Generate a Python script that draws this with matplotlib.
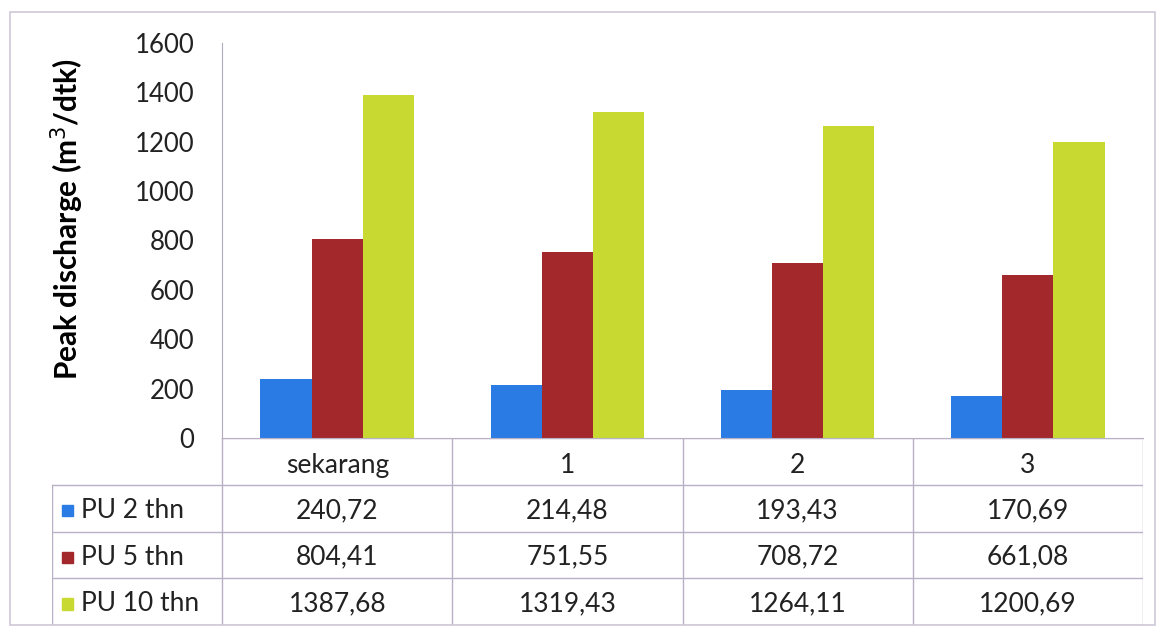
import matplotlib
matplotlib.use("Agg")
import matplotlib.pyplot as plt
from matplotlib.patches import Rectangle
import numpy as np

categories = ["sekarang", "1", "2", "3"]
series_names = ["PU 2 thn", "PU 5 thn", "PU 10 thn"]
pu2 = [240.72, 214.48, 193.43, 170.69]
pu5 = [804.41, 751.55, 708.72, 661.08]
pu10 = [1387.68, 1319.43, 1264.11, 1200.69]
yticks = [0, 200, 400, 600, 800, 1000, 1200, 1400, 1600]
colors = ["#2a7be4", "#a3282c", "#c8da32"]

plt.rcParams['font.family'] = ['Lato', 'DejaVu Sans']

W, H = 1163, 638
fig = plt.figure(figsize=(W / 100, H / 100), dpi=100)

def fx(px):
    return px / W

def fy(py):
    return 1 - py / H

# outer border
fig.patches.append(Rectangle((fx(10), fy(625)), fx(1155) - fx(10), fy(12) - fy(625),
                             transform=fig.transFigure, fill=False,
                             edgecolor="#cfc8d8", linewidth=1.2))

ax = fig.add_axes([fx(222), fy(438), fx(1143) - fx(222), fy(43) - fy(438)])
x = np.arange(len(categories))
bw = 0.222
all_series = [pu2, pu5, pu10]
for i, (vals, c) in enumerate(zip(all_series, colors)):
    ax.bar(x + (i - 1) * bw, vals, width=bw, color=c, edgecolor="none", zorder=2)

ax.set_xlim(-0.5, len(categories) - 0.5)
ax.set_ylim(0, 1600)
ax.set_yticks(yticks)
ax.set_yticklabels([str(v) for v in yticks], fontsize=18.5, color="#222222")
ax.tick_params(axis="y", length=0, pad=20)
ax.set_xticks([])
for s in ["top", "right"]:
    ax.spines[s].set_visible(False)
ax.spines["left"].set_color("#b0a8bc")
ax.spines["bottom"].set_color("#b0a8bc")
ax.set_ylabel("Peak discharge (m$^3$/dtk)", fontsize=21.5, fontweight="bold")
ax.yaxis.set_label_coords(-0.148, 0.553)

# data table
tab = fig.add_axes([fx(52), fy(625), fx(1143) - fx(52), fy(438) - fy(625)])
label_w = 170 / 230.0
tab.set_xlim(-0.5 - label_w, len(categories) - 0.5)
tab.set_ylim(4, 0)
tab.axis("off")
lc = "#b8b0c4"
lw = 1.0
left = -0.5 - label_w
right = len(categories) - 0.5
tab.plot([-0.5, right], [0, 0], color=lc, lw=lw)
for r in [1, 2, 3, 4]:
    tab.plot([left, right], [r, r], color=lc, lw=lw)
tab.plot([left, left], [1, 4], color=lc, lw=lw)
for k in range(len(categories) + 1):
    tab.plot([k - 0.5, k - 0.5], [0, 4], color=lc, lw=lw)

fs = 19
for j, cat in enumerate(categories):
    tab.text(j, 0.58, cat, ha="center", va="center", fontsize=fs, color="#222222")
for i, (name, vals, c) in enumerate(zip(series_names, all_series, colors)):
    yc = i + 1.55
    tab.add_patch(Rectangle((left + 0.045, yc - 0.12), 0.047, 0.24, color=c))
    tab.text(left + 0.125, yc, name, ha="left", va="center", fontsize=fs, color="#222222")
    for j, v in enumerate(vals):
        tab.text(j, yc, f"{v:.2f}".replace(".", ","), ha="center", va="center",
                 fontsize=fs, color="#222222")

fig.savefig("out.png", dpi=100)
